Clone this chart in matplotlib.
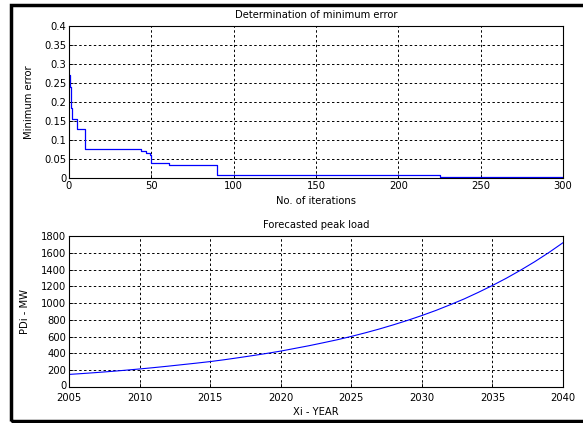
import matplotlib.pyplot as plt
from matplotlib.patches import Rectangle
from matplotlib.transforms import ScaledTranslation

plt.rcParams['font.family'] = ['DejaVu Sans']
plt.rcParams['font.size'] = 7.2

# minimum error per iteration (stepwise best-so-far)
iters = [0, 0.5, 1, 2, 5, 10, 44, 47, 49, 50, 61, 89, 90, 225, 300]
min_err = [0.27, 0.24, 0.185, 0.155, 0.13, 0.075, 0.07, 0.065, 0.06, 0.04, 0.035, 0.035, 0.009, 0.002, 0.002]

# forecasted peak load (MW) per year
years = list(range(2005, 2041))
peak_load = [150, 161, 173, 186, 200, 215, 231, 248, 266, 284,
             303, 325, 349, 374, 400, 428, 460, 492, 527, 563,
             603, 646, 692, 742, 795, 852, 913, 980, 1050, 1128,
             1210, 1298, 1393, 1494, 1603, 1720]

W, H = 583, 423
fig = plt.figure(figsize=(W / 100, H / 100), dpi=100)

def box(l, t, r, b):
    return [l / W, 1 - b / H, (r - l) / W, (b - t) / H]

grid_kw = dict(color='black', linestyle=(0, (2.5, 2.5)), linewidth=0.7)

ax1 = fig.add_axes(box(69, 26, 563, 178))
ax1.step(iters, min_err, where='post', color='blue', linewidth=0.9)
ax1.set_xlim(0, 300)
ax1.set_ylim(0, 0.4)
ax1.set_xticks(range(0, 301, 50))
ax1.set_yticks([0, 0.05, 0.1, 0.15, 0.2, 0.25, 0.3, 0.35, 0.4])
ax1.set_yticklabels(['0', '0.05', '0.1', '0.15', '0.2', '0.25', '0.3', '0.35', '0.4'])
ax1.grid(True, **grid_kw)
ax1.set_title('Determination of minimum error', fontsize=7.2, pad=6)
ax1.set_xlabel('No. of iterations', labelpad=4)
ax1.set_ylabel('Minimum error', labelpad=7)

ax2 = fig.add_axes(box(69, 236, 563, 387))
ax2.plot(years, peak_load, color='blue', linewidth=0.8)
ax2.set_xlim(2005, 2040)
ax2.set_ylim(0, 1800)
ax2.set_xticks(range(2005, 2041, 5))
ax2.set_yticks(range(0, 1801, 200))
ax2.grid(True, **grid_kw)
ax2.set_title('Forecasted peak load', fontsize=7.2, pad=6)
ax2.set_xlabel('Xi - YEAR', labelpad=3)
ax2.set_ylabel('PDi - MW', labelpad=8)

for ax in (ax1, ax2):
    ax.tick_params(direction='in', length=3, width=0.6, pad=2, labelsize=7.2,
                   top=False, right=False)
    for s in ax.spines.values():
        s.set_linewidth(0.8)
ax2.tick_params(axis='x', pad=4)

# nudge the zero label on the load axis up a little, clear of the year labels
zero_lbl = ax2.get_yticklabels()[0]
zero_lbl.set_transform(zero_lbl.get_transform() +
                       ScaledTranslation(0, 2 / 100, fig.dpi_scale_trans))

# outer frame
fig.patches.append(Rectangle((11 / W, 1 - 421 / H), 600 / W, 416 / H,
                             transform=fig.transFigure, fill=False,
                             edgecolor='black', linewidth=2.5, clip_on=False))

fig.savefig('out.png', dpi=100)
